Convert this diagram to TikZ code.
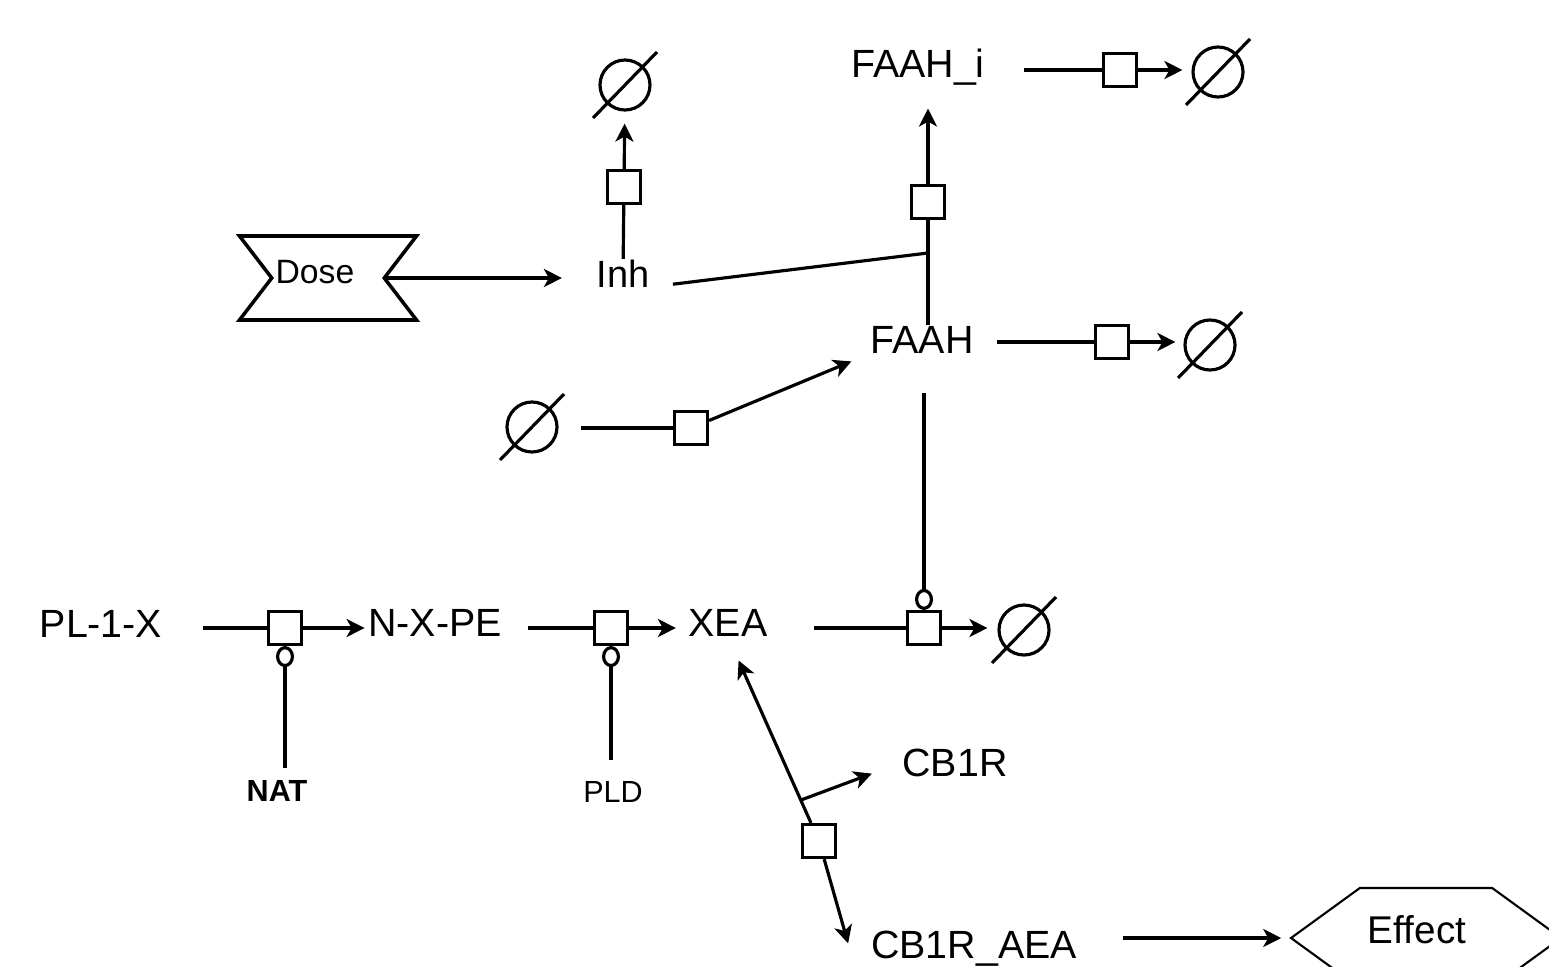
\documentclass[tikz,border=0pt]{standalone}
\usepackage{fontspec}
\setmainfont{Liberation Sans}
\usetikzlibrary{arrows.meta, shapes.symbols}
\tikzset{
  spcnode/.style={inner sep=0pt,anchor=base,font=\fontsize{11.2}{13}\selectfont},
  smallspc/.style={spcnode,font=\fontsize{8.7}{10}\selectfont},
  rxnnode/.style={rectangle,draw,line width=0.9pt,minimum size=3.3mm,inner sep=0pt},
  sinknode/.style={circle,draw,line width=0.9pt,minimum size=5mm,inner sep=0pt,
    append after command={\pgfextra{\draw[line width=0.9pt] ([shift={(-3.2mm,-3.3mm)}]\tikzlastnode.center) -- ([shift={(3.2mm,3.3mm)}]\tikzlastnode.center);}}},
  dosenode/.style={signal,signal to=nowhere,signal from=west and east,signal pointer angle=105,draw,line width=1pt,minimum width=17.7mm,minimum height=8.4mm,inner sep=0pt},
  effnode/.style={signal,signal to=west and east,signal pointer angle=72,draw,line width=0.6pt,minimum width=27mm,minimum height=10mm,inner sep=0pt},
  cnsedge/.style={line width=0.9pt},
  prodedge/.style={cnsedge,-{Stealth[length=1.8mm,width=1.8mm,inset=0.5mm]}},
  catedge/.style={cnsedge,-{Circle[open,length=2.1mm,width=1.8mm]}},
}
\begin{document}
\begin{tikzpicture}[x=0.1mm,y=-0.1mm]
  \useasboundingbox (0,0) rectangle (1549,966);
  \clip (0,0) rectangle (1549,966);
  % species
  \node[spcnode] (nFAAHi) at (918,77) {FAAH\_i};
  \node[spcnode,font=\fontsize{10.8}{13}\selectfont] (nInh) at (623,287) {Inh};
  \node[spcnode] (nFAAH) at (922,353) {FAAH};
  \node[spcnode] (nPL) at (101,637) {PL-1-X};
  \node[spcnode] (nNXPE) at (435,636) {N-X-PE};
  \node[spcnode] (nXEA) at (728,636) {XEA};
  \node[spcnode] (nCB1R) at (955,776) {CB1R};
  \node[spcnode] (nCBA) at (974,958) {CB1R\_AEA};
  \node[smallspc,font=\fontsize{8.7}{10}\selectfont\bfseries] (nNAT) at (277,801) {NAT};
  \node[smallspc] (nPLD) at (613,802) {PLD};
  \node[dosenode,label={[xshift=-1.3mm,yshift=0.6mm,font=\fontsize{9.6}{11}\selectfont]center:Dose}] (nDose) at (328,278) {};
  \node[effnode,label={[xshift=-0.9mm,yshift=0.8mm,font=\fontsize{11}{13}\selectfont]center:Effect}] (nEffect) at (1426,938) {};
  % sinks
  \node[sinknode] (sInh) at (625,85) {};
  \node[sinknode] (sFAAHi) at (1218,72) {};
  \node[sinknode] (sFAAH) at (1210,345) {};
  \node[sinknode] (sSrc) at (532,427) {};
  \node[sinknode] (sXEA) at (1024,630) {};
  % reactions
  \node[rxnnode] (rInhDeg) at (624,187) {};
  \node[rxnnode] (rInact) at (928,202) {};
  \node[rxnnode] (rFAAHiDeg) at (1120,70) {};
  \node[rxnnode] (rFAAHDeg) at (1112,342) {};
  \node[rxnnode] (rSyn) at (691,428) {};
  \node[rxnnode] (rXEADeg) at (924,628) {};
  \node[rxnnode] (rNAT) at (285,628) {};
  \node[rxnnode] (rPLD) at (611,628) {};
  \node[rxnnode] (rBind) at (819,841) {};
  \coordinate (cInact) at (928,253);
  \coordinate (cBind) at (801,800);
  % edges
  \draw[prodedge,shorten >=3.4mm] (nDose.east) -- (nDose.east -| nInh.west);
  \draw[cnsedge] (nInh) -- (rInhDeg);
  \draw[prodedge,shorten >=1.2mm] (rInhDeg) -- (sInh);
  \draw[cnsedge] (rInact |- nFAAH.north) -- (rInact);
  \draw[prodedge,shorten >=2.3mm] (rInact) -- (rInact |- nFAAHi.south);
  \draw[cnsedge,shorten <=2.3mm] (nInh.base east) -- (cInact);
  \draw[cnsedge,shorten <=3.9mm] (rFAAHiDeg -| nFAAHi.east) -- (rFAAHiDeg);
  \draw[prodedge,shorten >=0.9mm] (rFAAHiDeg) -- (rFAAHiDeg -| sFAAHi.west);
  \draw[cnsedge,shorten <=2.3mm] (rFAAHDeg -| nFAAH.east) -- (rFAAHDeg);
  \draw[prodedge,shorten >=0.8mm] (rFAAHDeg) -- (rFAAHDeg -| sFAAH.west);
  \draw[cnsedge,shorten <=2.2mm] (rSyn -| sSrc.east) -- (rSyn);
  \draw[prodedge,shorten >=2mm] (rSyn) -- (nFAAH.south west);
  \draw[catedge,shorten <=3.9mm] (rXEADeg |- nFAAH.south) -- (rXEADeg);
  \draw[cnsedge,shorten <=4.6mm] (rXEADeg -| nXEA.east) -- (rXEADeg);
  \draw[prodedge,shorten >=1mm] (rXEADeg) -- (rXEADeg -| sXEA.west);
  \draw[cnsedge,shorten <=4mm] (rNAT -| nPL.east) -- (rNAT);
  \draw[prodedge,shorten >=0.3mm] (rNAT) -- (rNAT -| nNXPE.west);
  \draw[catedge,shorten <=1.1mm] (rNAT |- nNAT.north) -- (rNAT);
  \draw[cnsedge,shorten <=2.6mm] (rPLD -| nNXPE.east) -- (rPLD);
  \draw[prodedge,shorten >=1.2mm] (rPLD) -- (rPLD -| nXEA.west);
  \draw[catedge,shorten <=2mm] (rPLD |- nPLD.north) -- (rPLD);
  \draw[prodedge,shorten >=2.6mm] (rBind) -- (nXEA.south);
  \draw[prodedge,shorten >=3.2mm] (cBind) -- (nCB1R.west);
  \draw[prodedge,shorten >=0.5mm] (rBind) -- ([xshift=-2.1mm]nCBA.west);
  \draw[prodedge,shorten <=4.5mm,shorten >=0.8mm] (nEffect.west -| nCBA.east) -- (nEffect.west);
\end{tikzpicture}
\end{document}
